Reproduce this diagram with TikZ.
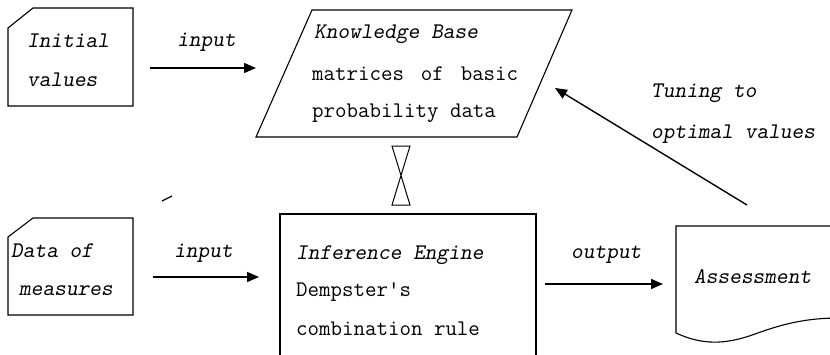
\documentclass[tikz,border=0pt]{standalone}
\usepackage{fontspec}
\usetikzlibrary{arrows.meta}
\begin{document}
\begin{tikzpicture}[x=1pt,y=-1pt,
  shapeline/.style={line width=1.1pt, line join=miter},
  txt/.style={anchor=base west, inner sep=0pt, font=\ttfamily\fontsize{22.3}{38}\selectfont},
  itxt/.style={anchor=base west, inner sep=0pt, font=\ttfamily\slshape\fontsize{22.3}{38}\selectfont},
  arr/.style={-{Triangle[length=12pt,width=10pt]}, line width=1.4pt},
  ]
\useasboundingbox (0,0) rectangle (830,354);
\fill[white] (0,0) rectangle (830,354);
\begin{scope}
\clip (0,0) rectangle (830,354);
% Initial values (card)
\draw[shapeline] (33,8) -- (133,8) -- (133,106) -- (8,106) -- (8,28) -- cycle;
\node[itxt] (iv1) at (27,47) {Initial};
\node[itxt] (iv2) at (27,86) {values};
% Knowledge base (parallelogram)
\draw[shapeline] (312,10) -- (572,10) -- (517,137) -- (256,137) -- cycle;
\node[itxt] (kb1) at (314,38) {Knowledge Base};
\node[txt] (kb2) at (312,80) {\hbox to 206pt{matrices\hfill of\hfill basic}};
\node[txt] (kb3) at (312,117) {probability data};
% input arrow 1
\coordinate (a1s) at (150,68);
\coordinate (a1e) at (256,68);
\draw[arr] (a1s) -- (a1e);
\node[itxt] (lin1) at (177,46) {input};
% hourglass between KB and IE
\draw[line width=1pt] (392,146) -- (410,146) -- (392,205) -- (410,205) -- cycle;
% Data of measures (card)
\draw[shapeline] (33,218) -- (133,218) -- (133,315) -- (8,315) -- (8,237) -- cycle;
\node[itxt] (dm1) at (11,257) {Data of};
\node[itxt] (dm2) at (19,295) {measures};
% input arrow 2
\coordinate (a2s) at (153,277);
\coordinate (a2e) at (259,277);
\draw[arr] (a2s) -- (a2e);
\node[itxt] (lin2) at (174,257) {input};
% Inference engine
\draw[shapeline] (280,380) -- (280,214) -- (536,214) -- (536,380);
\node[itxt] (ie1) at (296,259) {Inference Engine};
\node[txt] (ie2) at (296,296) {Dempster's};
\node[txt] (ie3) at (296,335) {combination rule};
% output arrow
\coordinate (a3s) at (545,284);
\coordinate (a3e) at (663,284);
\draw[arr] (a3s) -- (a3e);
\node[itxt] (lout) at (571,258) {output};
% Assessment (document)
\draw[shapeline] (840,226) -- (676,226) -- (676,333)
  .. controls (702,345) and (725,345) .. (755,334)
  .. controls (785,323) and (808,318) .. (840,318);
\node[itxt] (as) at (694,283) {Assessment};
% tuning arrow
\coordinate (a4s) at (747,205);
\coordinate (a4e) at (555,88);
\draw[arr] (a4s) -- (a4e);
\node[itxt] (tu1) at (651,97) {Tuning to};
\node[itxt] (tu2) at (651,138) {optimal values};
% small stray mark
\draw[line width=1.3pt] (162,201) -- (172,196);
\end{scope}
\end{tikzpicture}
\end{document}
